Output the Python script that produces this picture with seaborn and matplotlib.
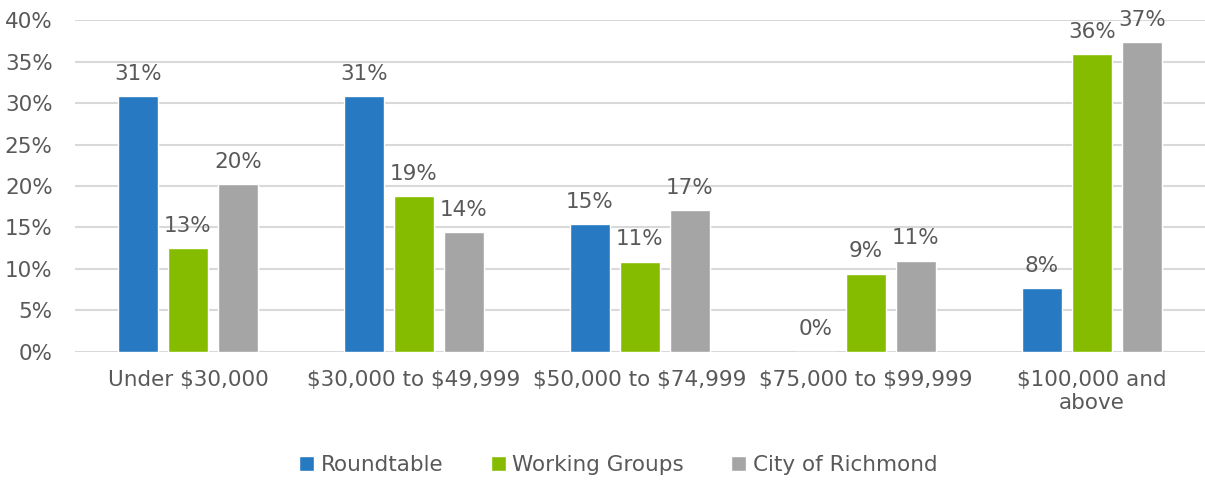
import matplotlib
matplotlib.use("Agg")
import matplotlib.pyplot as plt
import seaborn as sns
import pandas as pd
from matplotlib.ticker import PercentFormatter

categories = ["Under $30,000", "$30,000 to $49,999", "$50,000 to $74,999",
              "$75,000 to $99,999", "$100,000 and\nabove"]
series = ["Roundtable", "Working Groups", "City of Richmond"]
roundtable = [30.8, 30.8, 15.4, 0.0, 7.7]
working_groups = [12.5, 18.75, 10.9, 9.4, 35.9]
city_of_richmond = [20.2, 14.4, 17.1, 11.0, 37.3]
colors = ["#2779C2", "#86BC00", "#A5A5A5"]

rows = []
for s, vals in zip(series, [roundtable, working_groups, city_of_richmond]):
    for c, v in zip(categories, vals):
        rows.append({"Income": c, "Series": s, "Value": v})
df = pd.DataFrame(rows)

sns.set_theme(style="white")
plt.rcParams["font.family"] = ["DejaVu Sans"]
plt.rcParams["text.parse_math"] = False
text_color = "#595959"

fig = plt.figure(figsize=(12.05, 4.8), dpi=100)
ax = fig.add_axes([0.0622, 0.2667, 0.9378, 0.6916])

sns.barplot(data=df, x="Income", y="Value", hue="Series", order=categories,
            hue_order=series, palette=colors, width=0.663, gap=0.2,
            saturation=1, ax=ax, legend=True, errorbar=None)

for cont, vals in zip(ax.containers, [roundtable, working_groups, city_of_richmond]):
    labels = [f"{int(v + 0.5)}%" for v in vals]
    ax.bar_label(cont, labels=labels, padding=9, fontsize=15.5, color=text_color)

ax.set_ylim(0, 40)
ax.set_yticks(range(0, 41, 5))
ax.yaxis.set_major_formatter(PercentFormatter(decimals=0))
ax.set_xlim(-0.5, 4.5)
ax.grid(axis="y", color="#D9D9D9", linewidth=1.5)
ax.set_axisbelow(True)
for sp in ax.spines.values():
    sp.set_visible(False)
ax.set_xlabel("")
ax.set_ylabel("")
ax.tick_params(axis="both", length=0, labelsize=15.5, colors=text_color)
ax.tick_params(axis="y", pad=16)
ax.tick_params(axis="x", pad=13)

h, l = ax.get_legend_handles_labels()
ax.get_legend().remove()
fig.legend(h, l, loc="center", bbox_to_anchor=(0.513, 0.032), ncol=3, frameon=False,
           fontsize=15.5, labelcolor=text_color, handlelength=0.7, handleheight=0.7,
           handletextpad=0.3, columnspacing=2.2)

fig.savefig("out.png", dpi=100)
